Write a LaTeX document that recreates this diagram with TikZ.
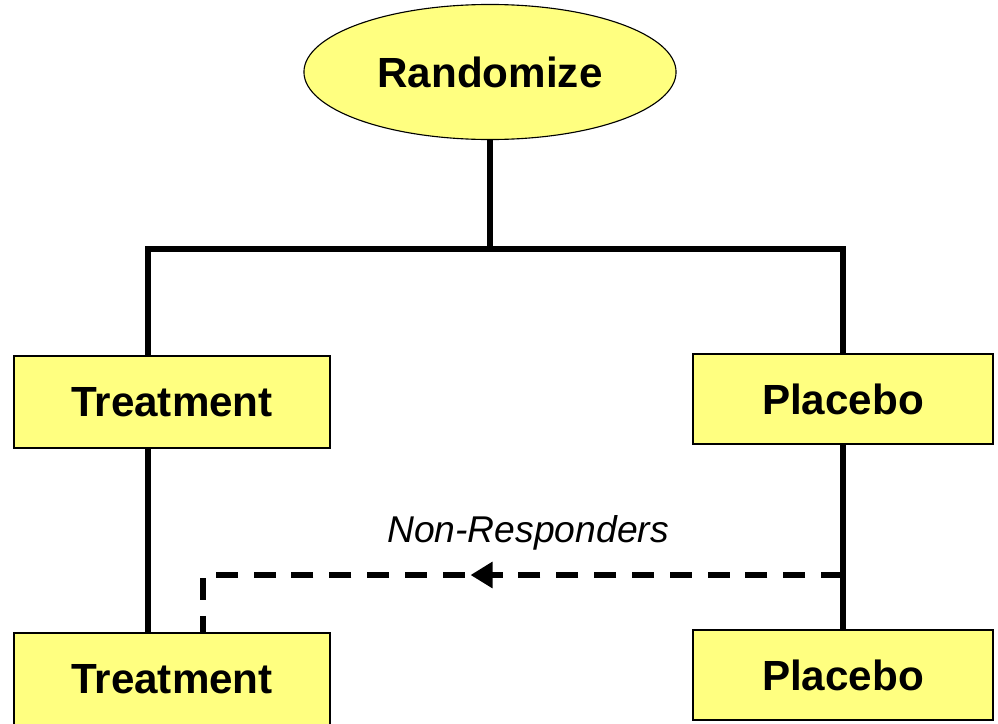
\documentclass[tikz,border=0pt]{standalone}
\usepackage{fontspec}
\setmainfont{Liberation Sans}
\usetikzlibrary{shapes,arrows.meta,decorations.markings}
\definecolor{boxyellow}{HTML}{FFFF80}

\begin{document}
\begin{tikzpicture}[x=0.025cm,y=-0.025cm,
        armbox/.style={draw, line width=0.8pt, fill=boxyellow, inner sep=0pt,
            font=\fontsize{30}{34}\selectfont\bfseries},
        trunk/.style={line width=3.6pt},
        nrline/.style={line width=3.6pt, dash pattern=on 15.6pt off 11.3pt,
            postaction={decorate, decoration={markings,
                mark=at position 0.534 with {\arrow[solid]{Triangle[length=15.6pt,width=18pt]}}}}}]
        \useasboundingbox (0,0) rectangle (998,723);
        % Define the nodes
        \node[armbox, ellipse, minimum width=9.3cm, minimum height=3.375cm] (rand) at (490,72) {Randomize};
        \node[armbox, minimum width=7.9cm, minimum height=2.3cm] (treat1) at (172,402) {Treatment};
        \node[armbox, minimum width=7.5cm, minimum height=2.25cm] (plac1) at (843,399) {Placebo};
        \node[armbox, minimum width=7.9cm, minimum height=2.3cm] (treat2) at (172,679) {Treatment};
        \node[armbox, minimum width=7.5cm, minimum height=2.25cm] (plac2) at (843,675) {Placebo};
        \node[font=\fontsize{26.5}{30}\selectfont\itshape] (nrtext) at (528,533) {Non-Responders};
        % Junction points
        \coordinate (split) at (490,249);
        \coordinate (lcorner) at (148,249);
        \coordinate (rcorner) at (843,249);
        \coordinate (nrstart) at (843,575);
        \coordinate (nrcorner) at (203,575);
        % Add the tree
        \draw[trunk] (rand.south) -- (split);
        \draw[trunk] (lcorner |- treat1.north) -- (lcorner) -- (rcorner) -- (plac1.north);
        \draw[trunk] (treat1.south -| lcorner) -- (treat2.north -| lcorner);
        \draw[trunk] (plac1.south) -- (plac2.north);
        % Non-responders switch over
        \draw[nrline] (nrstart) -- (nrcorner) -- (nrcorner |- treat2.north);
\end{tikzpicture}
\end{document}
